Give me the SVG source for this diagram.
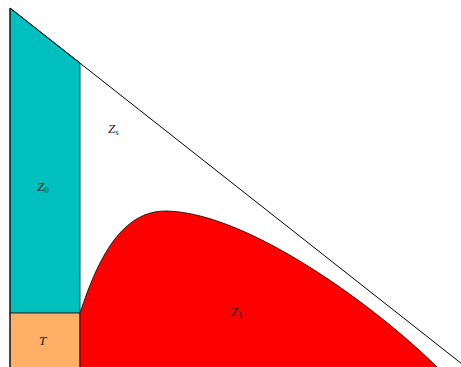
<svg xmlns="http://www.w3.org/2000/svg" width="461" height="367" viewBox="0 0 461 367">
<style>
.lbl{font-family:"Liberation Serif","DejaVu Serif",serif;font-style:italic;font-size:13px;fill:#222}
.sub{font-family:"Liberation Serif","DejaVu Serif",serif;font-style:normal;font-size:9px;fill:#222}
.edge{stroke:#000;stroke-width:1;fill:none}
</style>
<rect width="461" height="367" fill="#fff"/>
<g id="Z0">
<polygon points="10,8 80,63 80,313 10,313" fill="#00bfbf" stroke="#1a4a4a" stroke-width="1"/>
<text class="lbl" x="37" y="191">Z<tspan class="sub" dy="2">0</tspan></text>
</g>
<g id="T">
<rect x="10" y="313" width="70" height="56" fill="#ffb066" stroke="#333" stroke-width="1"/>
<text class="lbl" x="39" y="345">T</text>
</g>
<g id="Z1">
<path d="M80,313 C98,258 122,210 167,211 C250,213 380,310 438,368 L80,368 Z" fill="#ff0000" stroke="#000" stroke-width="0.8"/>
<text class="lbl" x="231" y="316">Z<tspan class="sub" dy="2">1</tspan></text>
</g>
<g id="Zs">
<text class="lbl" x="108" y="133">Z<tspan class="sub" dy="2">s</tspan></text>
</g>
<g id="connectors">
<line class="edge" x1="10" y1="8" x2="462" y2="364"/>
<line class="edge" x1="10" y1="8" x2="10" y2="367"/>
</g>
</svg>
